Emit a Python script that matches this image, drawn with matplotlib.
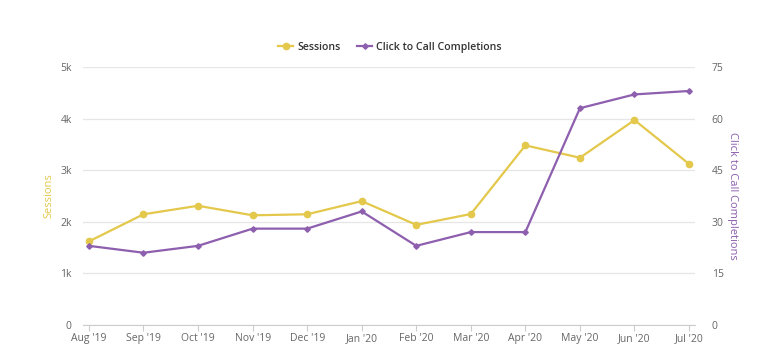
import numpy as np
import matplotlib.pyplot as plt

months = ["Aug '19", "Sep '19", "Oct '19", "Nov '19", "Dec '19", "Jan '20",
          "Feb '20", "Mar '20", "Apr '20", "May '20", "Jun '20", "Jul '20"]
sessions = [1620, 2145, 2310, 2125, 2145, 2400, 1940, 2150, 3480, 3240, 3970, 3120]
click_calls = [23, 21, 23, 28, 28, 33, 23, 27, 27, 63, 67, 68]

left_ticks = [0, 1000, 2000, 3000, 4000, 5000]
left_labels = ["0", "1k", "2k", "3k", "4k", "5k"]
right_ticks = [0, 15, 30, 45, 60, 75]

yellow = "#e3c84c"
purple = "#8d5fae"
grey_text = "#666666"

plt.rcParams['font.family'] = ['Open Sans', 'DejaVu Sans']

fig = plt.figure(figsize=(7.68, 3.62), dpi=100)
ax = fig.add_axes([0.108, 0.1022, 0.797, 0.713])
ax2 = ax.twinx()

x = np.arange(len(months))
l1, = ax.plot(x, sessions, color=yellow, lw=1.6, marker='o', ms=4.5, label='Sessions', zorder=3)
l2, = ax2.plot(x, click_calls, color=purple, lw=1.6, marker='D', ms=2.8, label='Click to Call Completions', zorder=3)

ax.set_xlim(-0.11, 11.11)
ax.set_ylim(0, 5000)
ax2.set_ylim(0, 75)
ax.set_yticks(left_ticks)
ax.set_yticklabels(left_labels)
ax2.set_yticks(right_ticks)
ax.set_xticks(x)
ax.set_xticklabels(months)

ax.grid(axis='y', color='#e6e6e6', lw=0.9)
ax.set_axisbelow(True)
for a in (ax, ax2):
    for s in a.spines.values():
        s.set_visible(False)
ax.spines['bottom'].set_visible(True)
ax.spines['bottom'].set_color('#cccccc')

ax.tick_params(axis='y', length=0, labelsize=7.5, labelcolor=grey_text, pad=8)
ax2.tick_params(axis='y', length=0, labelsize=7.5, labelcolor=grey_text, pad=12)
ax.tick_params(axis='x', length=4, color='#cccccc', labelsize=7.5, labelcolor=grey_text, pad=2)

ax.set_ylabel('Sessions', color=yellow, fontsize=8, labelpad=4)
ax2.set_ylabel('Click to Call Completions', color=purple, fontsize=8, rotation=270, labelpad=10)

fig.legend(handles=[l1, l2], loc='center', bbox_to_anchor=(0.508, 0.87), ncol=2,
           frameon=False, handlelength=1.4, handletextpad=0.4, columnspacing=1.6,
           prop={'weight': 600, 'size': 7.6}, labelcolor='#333333')

fig.savefig('out.png', dpi=100)
